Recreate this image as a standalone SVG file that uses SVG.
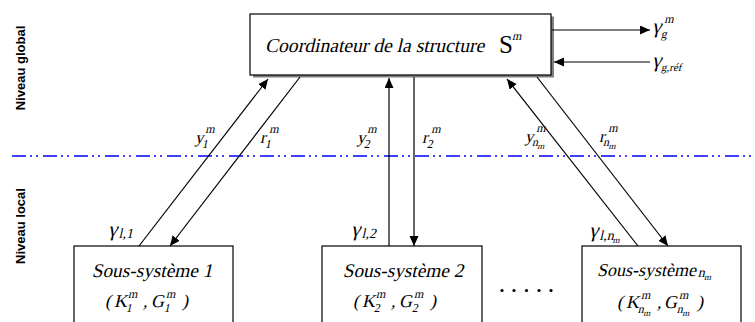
<svg xmlns="http://www.w3.org/2000/svg" width="755" height="322" viewBox="0 0 755 322">
<defs>
<marker id="ah" markerUnits="userSpaceOnUse" markerWidth="11" markerHeight="10" refX="10" refY="4.5" orient="auto">
<path d="M0,0 L10,4.5 L0,9 z" fill="#000"/>
</marker>
<style>
.box{fill:#fff;stroke:#000;stroke-width:1.2}
.ln{stroke:#000;stroke-width:1.2;fill:none;marker-end:url(#ah)}
.m{font-size:19.3px}
.b{font-size:18px}
.g{font-size:21px}
.s{font-size:12px}
.ss{font-size:9px}
.lv{font-family:'Liberation Sans',Arial,sans-serif;font-weight:bold;font-size:13px;fill:#000}
</style>
</defs>
<rect width="755" height="322" fill="#fff"/>

<line x1="12" y1="156" x2="755" y2="156" stroke="#0000ff" stroke-width="1.6" stroke-dasharray="14,4,2,4,2,5"/>

<text class="lv" transform="translate(25,68) rotate(-90)" text-anchor="middle">Niveau global</text>
<text class="lv" transform="translate(25,226) rotate(-90)" text-anchor="middle">Niveau local</text>

<g font-family="Liberation Serif, Times New Roman, serif" fill="#000">
<g id="coordinateur">
<rect x="253" y="16.5" width="301" height="61" fill="#808080"/>
<rect class="box" x="250" y="14" width="301" height="61"/>
<g transform="translate(265,52) skewX(-13)">
<text x="0" y="0" font-size="19.6">Coordinateur de la structure</text>
</g>
<text x="499" y="53" font-size="25">S</text>
<g transform="translate(512,40) skewX(-13)"><text class="s">m</text></g>
</g>

<g id="ss1">
<rect class="box" x="74" y="246" width="159" height="90"/>
<g transform="translate(152,277) skewX(-13)">
<text class="m" text-anchor="middle">Sous-système 1</text>
</g>
<g transform="translate(105,307) skewX(-13)">
<text class="b" x="0">(</text>
<text class="b" x="9">K</text>
<text class="s" x="22" y="5">1</text>
<text class="s" x="21" y="-9">m</text>
<text class="b" x="38">,</text>
<text class="b" x="46">G</text>
<text class="s" x="60" y="5">1</text>
<text class="s" x="59" y="-9">m</text>
<text class="b" x="77">)</text>
</g>
</g>

<g id="ss2">
<rect class="box" x="322" y="246" width="160" height="90"/>
<g transform="translate(403,277) skewX(-13)">
<text class="m" text-anchor="middle">Sous-système 2</text>
</g>
<g transform="translate(353,307) skewX(-13)">
<text class="b" x="0">(</text>
<text class="b" x="9">K</text>
<text class="s" x="22" y="5">2</text>
<text class="s" x="21" y="-9">m</text>
<text class="b" x="38">,</text>
<text class="b" x="46">G</text>
<text class="s" x="60" y="5">2</text>
<text class="s" x="59" y="-9">m</text>
<text class="b" x="77">)</text>
</g>
</g>

<g id="dots">
<circle cx="502" cy="290.5" r="1.6"/>
<circle cx="514" cy="290.5" r="1.6"/>
<circle cx="526.5" cy="290.5" r="1.6"/>
<circle cx="539" cy="290.5" r="1.6"/>
<circle cx="551" cy="290.5" r="1.6"/>
</g>

<g id="ssn">
<rect class="box" x="582" y="246" width="159" height="90"/>
<g transform="translate(597,276) skewX(-13)">
<text class="b">Sous-système</text>
<text x="101" y="1" font-size="14">n</text>
<text class="ss" x="108" y="4">m</text>
</g>
<g transform="translate(617,308) skewX(-13)">
<text class="b" x="0">(</text>
<text class="b" x="9">K</text>
<text class="s" x="22" y="-9">m</text>
<text class="s" x="22" y="5">n</text>
<text class="ss" x="28" y="8">m</text>
<text class="b" x="40">,</text>
<text class="b" x="47">G</text>
<text class="s" x="60" y="-9">m</text>
<text class="s" x="61" y="5">n</text>
<text class="ss" x="67" y="8">m</text>
<text class="b" x="80">)</text>
</g>
</g>

<g id="connecteurs">
<line class="ln" x1="552" y1="30" x2="650" y2="30"/>
<line class="ln" x1="650" y1="62" x2="554" y2="62"/>
<line class="ln" x1="139" y1="246" x2="268" y2="79"/>
<line class="ln" x1="300" y1="77" x2="170" y2="246"/>
<line class="ln" x1="389" y1="246" x2="389" y2="78"/>
<line class="ln" x1="414" y1="77" x2="414" y2="246"/>
<line class="ln" x1="638" y1="246" x2="507" y2="79"/>
<line class="ln" x1="537" y1="77" x2="668" y2="246"/>
</g>

<g id="labels">
<g transform="translate(652,33) skewX(-13)">
<text class="g">γ</text>
<text class="s" x="10" y="5">g</text>
<text class="s" x="10" y="-10">m</text>
</g>
<g transform="translate(652,67) skewX(-13)">
<text class="g">γ</text>
<text x="10" y="4" font-size="11">g,réf</text>
</g>

<g transform="translate(195,143) skewX(-13)">
<text font-size="17">y</text>
<text class="s" x="8" y="5">1</text>
<text class="s" x="8" y="-10">m</text>
</g>
<g transform="translate(260,143) skewX(-13)">
<text font-size="17">r</text>
<text class="s" x="6" y="5">1</text>
<text class="s" x="7" y="-10">m</text>
</g>

<g transform="translate(357,143) skewX(-13)">
<text font-size="17">y</text>
<text class="s" x="8" y="5">2</text>
<text class="s" x="8" y="-10">m</text>
</g>
<g transform="translate(422,143) skewX(-13)">
<text font-size="17">r</text>
<text class="s" x="6" y="5">2</text>
<text class="s" x="7" y="-10">m</text>
</g>

<g transform="translate(525,142) skewX(-13)">
<text font-size="17">y</text>
<text class="s" x="8" y="4">n</text>
<text class="ss" x="14" y="7">m</text>
<text class="s" x="9" y="-10">m</text>
</g>
<g transform="translate(599,142) skewX(-13)">
<text font-size="17">r</text>
<text class="s" x="5" y="4">n</text>
<text class="ss" x="11" y="7">m</text>
<text class="s" x="7" y="-10">m</text>
</g>

<g transform="translate(108,236) skewX(-13)">
<text class="g">γ</text>
<text x="11" y="2" font-size="14">l,1</text>
</g>
<g transform="translate(351,236) skewX(-13)">
<text class="g">γ</text>
<text x="11" y="2" font-size="14">l,2</text>
</g>
<g transform="translate(589,237) skewX(-13)">
<text class="g">γ</text>
<text x="11" y="3" font-size="14">l,n</text>
<text class="ss" x="25" y="6">m</text>
</g>
</g>
</g>
</svg>
